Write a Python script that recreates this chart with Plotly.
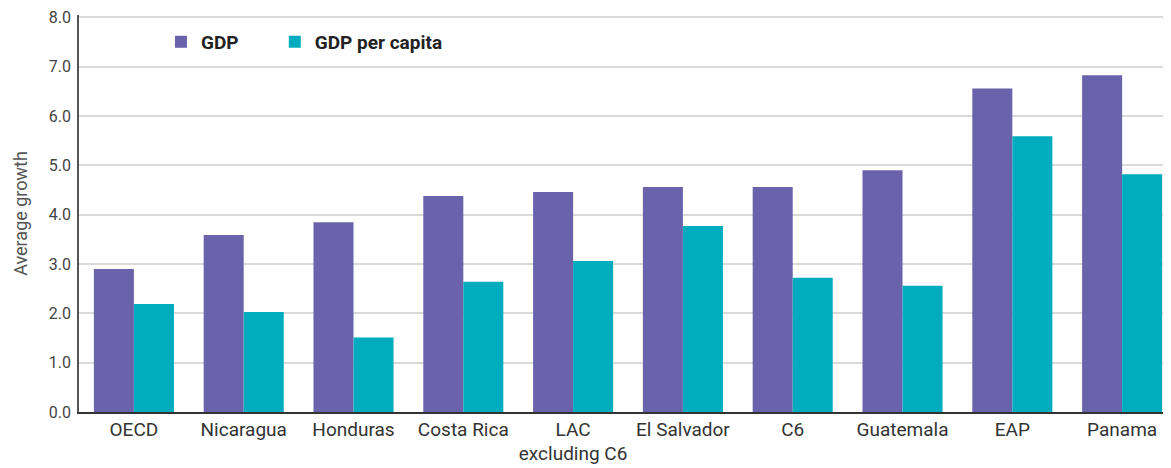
import plotly.graph_objects as go

categories = ["OECD", "Nicaragua", "Honduras", "Costa Rica", "LAC<br>excluding C6",
              "El Salvador", "C6", "Guatemala", "EAP", "Panama"]
gdp = [2.90, 3.59, 3.85, 4.38, 4.46, 4.56, 4.56, 4.90, 6.56, 6.83]
gdp_per_capita = [2.19, 2.03, 1.51, 2.64, 3.06, 3.77, 2.72, 2.56, 5.59, 4.82]
y_ticks = [0, 1, 2, 3, 4, 5, 6, 7, 8]
y_tick_labels = ["0.0", "1.0", "2.0", "3.0", "4.0", "5.0", "6.0", "7.0", "8.0"]

ROBOTO = "Roboto, Liberation Sans, sans-serif"

fig = go.Figure()
fig.add_trace(go.Bar(name="GDP", x=categories, y=gdp, marker_color="#6A63AC",
                     marker_line_width=0, legend="legend"))
fig.add_trace(go.Bar(name="GDP per capita", x=categories, y=gdp_per_capita,
                     marker_color="#00ACBE", marker_line_width=0, legend="legend2"))

legend_common = dict(orientation="h", yanchor="top", xanchor="left",
                     font=dict(family=ROBOTO, size=19, color="#222222", weight="bold"),
                     itemwidth=30, bgcolor="rgba(0,0,0,0)")

fig.update_layout(
    width=1171, height=468,
    margin=dict(l=71, r=0, t=7, b=64),
    paper_bgcolor="white", plot_bgcolor="white",
    barmode="group", bargap=0.271, bargroupgap=0,
    font=dict(family=ROBOTO, color="#333333"),
    showlegend=True,
    legend=dict(x=0.0745, y=0.98, **legend_common),
    legend2=dict(x=0.178, y=0.98, **legend_common),
    xaxis=dict(showline=True, linecolor="#333333", linewidth=1.5,
               range=[-0.5, 9.518], automargin=False,
               tickfont=dict(family=ROBOTO, size=19, color="#333333"),
               ticks="", showgrid=False, ticklabelstandoff=-1),
    yaxis=dict(range=[0, 8.05], tickvals=y_ticks, ticktext=y_tick_labels,
               automargin=False, ticklabeloverflow="allow",
               showgrid=True, gridcolor="#d9d9d9", gridwidth=1.5,
               showline=True, linecolor="#555555", linewidth=1.5,
               tickfont=dict(family=ROBOTO, size=16, color="#444444"),
               ticks="", zeroline=False, ticklabelstandoff=3,
               title=dict(text="Average growth", standoff=17,
                          font=dict(family=ROBOTO, size=18, color="#555555"))),
)

fig.write_html("out.html")
